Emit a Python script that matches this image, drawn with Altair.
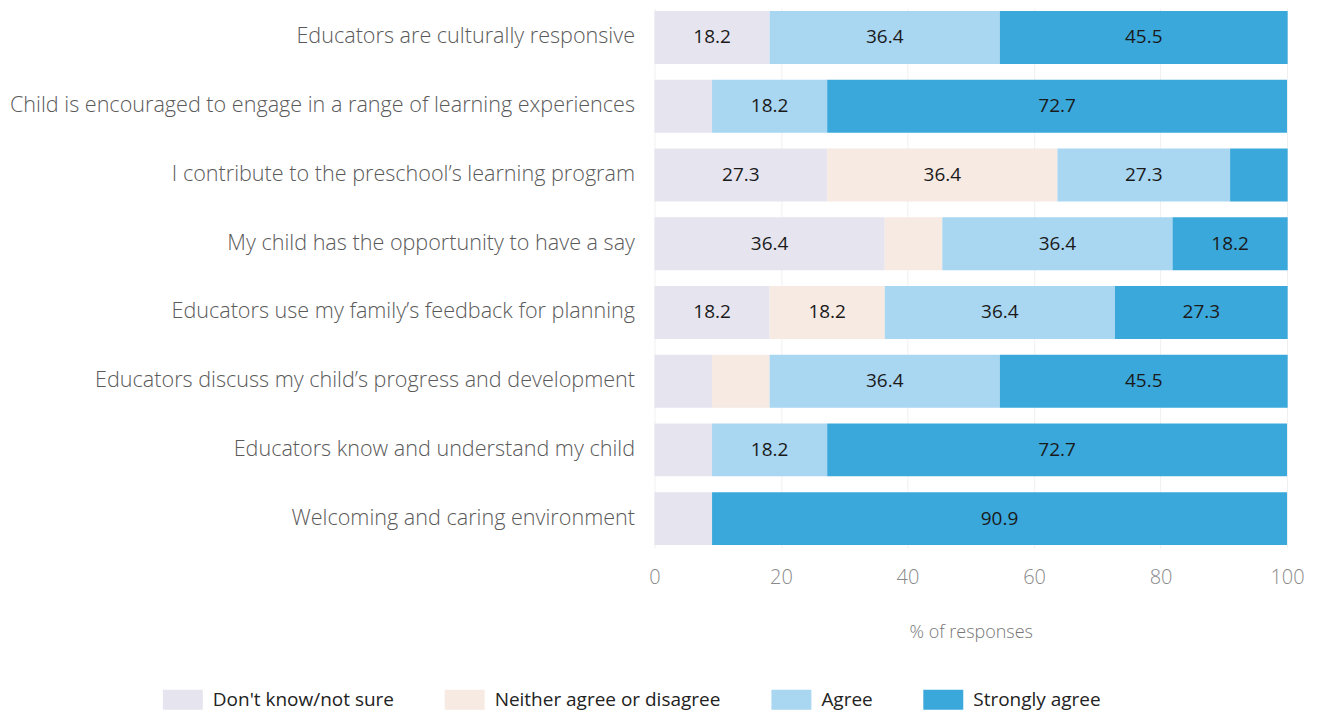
import altair as alt
import pandas as pd

items = [
    "Educators are culturally responsive",
    "Child is encouraged to engage in a range of learning experiences",
    "I contribute to the preschool\u2019s learning program",
    "My child has the opportunity to have a say",
    "Educators use my family\u2019s feedback for planning",
    "Educators discuss my child\u2019s progress and development",
    "Educators know and understand my child",
    "Welcoming and caring environment",
]
categories = ["Don't know/not sure", "Neither agree or disagree", "Agree", "Strongly agree"]
colors = ["#E6E5EF", "#F6EAE3", "#A9D6F1", "#3AA8DB"]

dont_know = [18.2, 9.1, 27.3, 36.4, 18.2, 9.1, 9.1, 9.1]
neither = [0.0, 0.0, 36.4, 9.1, 18.2, 9.1, 0.0, 0.0]
agree = [36.4, 18.2, 27.3, 36.4, 36.4, 36.4, 18.2, 0.0]
strongly = [45.5, 72.7, 9.1, 18.2, 27.3, 45.5, 72.7, 90.9]

rows = []
for i, it in enumerate(items):
    for r, (cat, vals) in enumerate(zip(categories, [dont_know, neither, agree, strongly])):
        rows.append({"item": it, "cat": cat, "rank": r, "value": vals[i]})
df = pd.DataFrame(rows)

FONT = "Open Sans"

base = alt.Chart(df).transform_stack(
    stack="value", as_=["x0", "x1"], groupby=["item"], sort=[alt.SortField("rank")]
).transform_calculate(mid="(datum.x0 + datum.x1) / 2")

y_enc = alt.Y(
    "item:N",
    sort=items,
    title=None,
    scale=alt.Scale(paddingInner=0.23, paddingOuter=0.04),
    axis=alt.Axis(
        domain=False, ticks=False, labelFont=FONT, labelFontSize=21.6, labelFontWeight=300,
        labelColor="#5A5A5A", labelPadding=20, labelLimit=700,
    ),
)

bars = base.mark_bar().encode(
    y=y_enc,
    x=alt.X(
        "x0:Q",
        scale=alt.Scale(domain=[0, 100]),
        title="% of responses",
        axis=alt.Axis(
            values=[0, 20, 40, 60, 80, 100], domain=False, ticks=False, labelFlush=False,
            grid=True, gridColor="#F0F0F0", gridWidth=1,
            labelFont=FONT, labelFontSize=20, labelFontWeight=300, labelColor="#8A8A8A",
            labelPadding=20, titleFont=FONT, titleFontSize=18, titleFontWeight=300,
            titleColor="#777777", titlePadding=36,
        ),
    ),
    x2="x1:Q",
    color=alt.Color(
        "cat:N",
        sort=categories,
        scale=alt.Scale(domain=categories, range=colors),
        legend=alt.Legend(
            title=None, orient="none", direction="horizontal", legendX=-492, legendY=672,
            symbolType="M-1,-0.5H1V0.5H-1Z", symbolSize=1600, symbolStrokeWidth=0,
            symbolOpacity=1, labelFont=FONT, labelFontSize=19, labelColor="#222222",
            labelLimit=400, columnPadding=50, labelOffset=10,
        ),
    ),
    order=alt.Order("rank:Q"),
)

labels = base.transform_filter("datum.value >= 15").mark_text(
    font=FONT, fontSize=19, color="#1A1A1A", fontWeight=500
).encode(
    y=alt.Y("item:N", sort=items),
    x=alt.X("mid:Q"),
    text=alt.Text("value:Q", format=".1f"),
)

chart = alt.layer(bars, labels).properties(
    width=633,
    height=540,
    autosize=alt.AutoSizeParams(type="none"),
    padding={"left": 647, "top": 0, "right": 30, "bottom": 164},
).configure_view(stroke=None)

chart.save("out.html", embed_options={"renderer": "svg", "actions": False})
